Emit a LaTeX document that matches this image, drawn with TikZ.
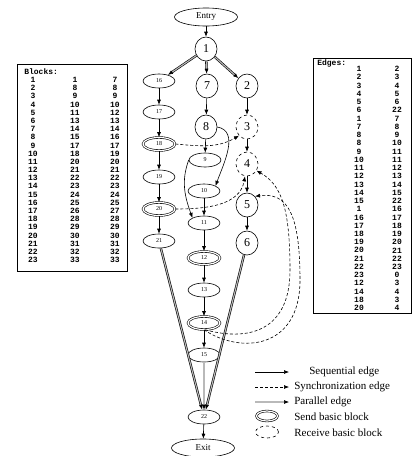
\documentclass[tikz,border=0pt]{standalone}
\usepackage{fontspec}
\setmainfont{Liberation Serif}
\setmonofont{Liberation Mono}
\usetikzlibrary{arrows.meta,shapes.geometric}

\begin{document}
\begin{tikzpicture}[x=1pt,y=-1pt,line width=0.6pt,
    every node/.style={ellipse,draw,inner sep=0pt,minimum width=32pt,minimum height=14pt,font=\fontsize{6}{6}\selectfont},
    big/.style={minimum width=22pt,minimum height=24pt,font=\fontsize{12}{12}\selectfont},
    snd/.style={double,double distance=1.2pt,minimum height=13pt},
    rcv/.style={big,dashed},
    term/.style={minimum width=63pt,minimum height=18pt,font=\fontsize{9}{9}\selectfont},
    lbl/.style={draw=none,rectangle,inner sep=0pt,minimum size=0pt},
    tab/.style={lbl,font=\ttfamily\bfseries\fontsize{8}{8}\selectfont},
    leg/.style={lbl,anchor=west,font=\fontsize{11}{11}\selectfont},
    seq/.style={-{Latex[length=5pt,width=4pt]}},
    sync/.style={seq,dash pattern=on 3pt off 2pt},
    par/.style={seq,double=gray!55,double distance=1.1pt}]
  \useasboundingbox (0,0) rectangle (414,456);

  \node[term] (entry) at (206,17) {Entry};
  \node[big] (b1) at (206,49) {1};
  \node (b16) at (159,81) {16};
  \node[big] (b7) at (207,86) {7};
  \node[big] (b2) at (247,86) {2};
  \node (b17) at (159,112) {17};
  \node[big] (b8) at (206,127) {8};
  \node[rcv] (b3) at (247,127) {3};
  \node[snd] (b18) at (159,144) {18};
  \node (b9) at (205,160) {9};
  \node[rcv] (b4) at (247,164) {4};
  \node (b19) at (159,177) {19};
  \node (b10) at (204,191) {10};
  \node[big] (b5) at (247,205) {5};
  \node[snd] (b20) at (159,209) {20};
  \node (b11) at (204,223) {11};
  \node[big] (b6) at (247,243) {6};
  \node (b21) at (159,241) {21};
  \node[snd] (b12) at (204,258) {12};
  \node (b13) at (204,290) {13};
  \node[snd] (b14) at (204,323) {14};
  \node (b15) at (204,355) {15};
  \node (b22) at (204,417) {22};
  \node[term] (exit) at (203,448) {Exit};

  \draw[seq] (entry) -- (b1);
  \draw[par] (b1) -- (b16);
  \draw[par] (b1) -- (b7);
  \draw[par] (b1) -- (b2);
  \draw[seq] (b16) -- (b17);
  \draw[seq] (b17) -- (b18);
  \draw[seq] (b18) -- (b19);
  \draw[seq] (b19) -- (b20);
  \draw[seq] (b20) -- (b21);
  \draw[seq] (b7) -- (b8);
  \draw[seq] (b8) -- (b9);
  \draw[seq] (b8.east) to[out=-10,in=70] (b10.north east);
  \draw[seq] (b9.west) to[out=-110,in=110] (b11.north west);
  \draw[seq] (b10) -- (b11);
  \draw[seq] (b11) -- (b12);
  \draw[seq] (b12) -- (b13);
  \draw[seq] (b13) -- (b14);
  \draw[seq] (b14) -- (b15);
  \draw[seq] (b2) -- (b3);
  \draw[seq] (b3) -- (b4);
  \draw[seq] (b4) -- (b5);
  \draw[seq] (b5) -- (b6);
  \draw[par] (b21) -- (b22);
  \draw[par] (b15) -- (b22);
  \draw[par] (b6) -- (b22);
  \draw[seq] (b22) -- (exit);

  \draw[sync] (b18.east) to[out=-5,in=-150] (b3.south west);
  \draw[sync] (b20.east) to[out=0,in=-100] ([xshift=-2pt]b4.south);
  \draw[sync] (b14.-80) .. controls (250,342) and (290,330) .. (290,270)
    .. controls (290,210) and (282,185) .. (b4.-35);
  \draw[sync] (b14.south) .. controls (240,354) and (300,350) .. (300,280)
    .. controls (300,215) and (288,192) .. (b5.north east);

  \draw (17,64) rectangle (127,271);
  \node[tab,anchor=west] (bhead) at (24,72) {Blocks:};
  \foreach \a/\b/\c [count=\i] in {1/1/7,2/8/8,3/9/9,4/10/10,5/11/12,6/13/13,7/14/14,8/15/16,
      9/17/17,10/18/19,11/20/20,12/21/21,13/22/22,14/23/23,15/24/24,16/25/25,17/26/27,
      18/28/28,19/29/29,20/30/30,21/31/31,22/32/32,23/33/33}{
    \node[tab] (bk\i a) at (33,{71.8+8.18*\i}) {\a};
    \node[tab] (bk\i b) at (75,{71.8+8.18*\i}) {\b};
    \node[tab] (bk\i c) at (115,{71.8+8.18*\i}) {\c};
  }

  \draw (313,58) rectangle (411,313);
  \node[tab,anchor=west] (ehead) at (317,63) {Edges:};
  \foreach \a/\b [count=\i] in {1/2,2/3,3/4,4/5,5/6,6/22,1/7,7/8,8/9,8/10,9/11,10/11,11/12,
      12/13,13/14,14/15,15/22,1/16,16/17,17/18,18/19,19/20,20/21,21/22,22/23,23/0,
      12/3,14/4,18/3,20/4}{
    \node[tab] (ed\i a) at (359,{60.8+8.24*\i}) {\a};
    \node[tab] (ed\i b) at (397,{60.8+8.24*\i}) {\b};
  }

  \coordinate (la1) at (255,372); \coordinate (lb1) at (289,372);
  \coordinate (la2) at (255,387); \coordinate (lb2) at (289,387);
  \coordinate (la3) at (255,402); \coordinate (lb3) at (289,402);
  \draw[seq] (la1) -- (lb1);
  \draw[sync] (la2) -- (lb2);
  \draw[par] (la3) -- (lb3);
  \node[snd,minimum width=21pt,minimum height=10pt] (lsnd) at (267,416) {};
  \node[dashed,minimum width=23pt,minimum height=12pt] (lrcv) at (267,432) {};
  \node[leg] (tseq) at (309,372) {Sequential edge};
  \node[leg] (tsync) at (294,387) {Synchronization edge};
  \node[leg] (tpar) at (294,402) {Parallel edge};
  \node[leg] (tsnd) at (294,417) {Send basic block};
  \node[leg] (trcv) at (294,433) {Receive basic block};
\end{tikzpicture}
\end{document}
